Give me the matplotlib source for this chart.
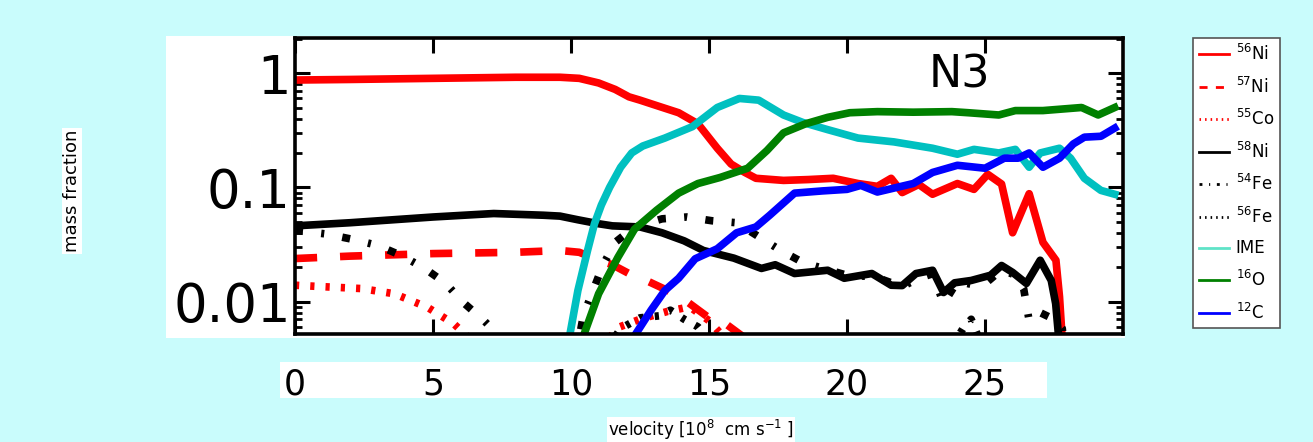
import numpy as np
import matplotlib
matplotlib.use('Agg')
import matplotlib.pyplot as plt
from matplotlib.patches import Rectangle
from matplotlib.ticker import LogLocator, NullFormatter

W, H = 1313, 442
BG = '#c9fcfc'

# --- data (velocity in 1e8 cm/s, mass fraction) ---
ni56_x = [0, 2, 5, 8, 9.6, 10.3, 11.0, 11.6, 12.1, 12.5, 13.1, 13.9, 14.6, 15.3, 15.8,
          16.3, 16.7, 17.7, 18.6, 19.5, 20.4, 21.1, 21.6, 22.0, 22.6, 23.1, 24.0, 24.6,
          25.1, 25.6, 26.0, 26.6, 27.1, 27.57, 27.7, 27.85]
ni56_y = [0.87, 0.88, 0.9, 0.92, 0.92, 0.9, 0.82, 0.72, 0.62, 0.58, 0.52, 0.45, 0.36, 0.22, 0.16,
          0.135, 0.12, 0.115, 0.117, 0.12, 0.108, 0.102, 0.12, 0.09, 0.106, 0.087, 0.108, 0.096,
          0.13, 0.107, 0.04, 0.088, 0.033, 0.023, 0.011, 0.003]

ni57_x = [0, 2, 5, 8, 9.6, 10.3, 11.0, 11.5, 12.1, 12.8, 13.5, 14.2, 15.0, 15.6, 16.2, 17.0]
ni57_y = [0.0238, 0.025, 0.0263, 0.027, 0.028, 0.027, 0.023, 0.021, 0.0176, 0.015, 0.0125,
          0.01, 0.0072, 0.0064, 0.005, 0.003]

co55_x = [0, 1, 2.4, 3.6, 4.8, 5.75, 6.3, 7.0, 10.0, 11.0, 11.6, 12.5, 13.5, 14.3, 15.0, 15.5, 16.5]
co55_y = [0.0139, 0.0135, 0.013, 0.0117, 0.0089, 0.0064, 0.0048, 0.002, 0.001, 0.003, 0.0058,
          0.007, 0.0082, 0.009, 0.0068, 0.005, 0.002]

ni58_x = [0, 2, 5, 7.2, 9.0, 9.6, 10.25, 11.0, 11.5, 12.5, 13.3, 14.1, 14.8, 15.9, 16.9, 17.4,
          18.1, 19.3, 19.9, 20.9, 21.6, 22.0, 22.5, 23.1, 23.5, 23.9, 24.5, 25.2, 25.6, 26.0,
          26.5, 27.0, 27.4, 27.56, 27.7]
ni58_y = [0.046, 0.049, 0.055, 0.059, 0.057, 0.056, 0.052, 0.048, 0.046, 0.045, 0.04, 0.034,
          0.028, 0.024, 0.0195, 0.021, 0.0176, 0.0188, 0.016, 0.0176, 0.0139, 0.0138, 0.0176,
          0.0188, 0.012, 0.0146, 0.0153, 0.017, 0.0207, 0.018, 0.0144, 0.023, 0.0153, 0.0096,
          0.004]

fe54_x = [0, 1.15, 2.1, 3.0, 3.9, 4.7, 5.45, 6.1, 6.85, 7.4, 8.5, 10.0, 10.45, 10.8, 11.15, 11.6,
          12.3, 13.3, 14.2, 15.1, 16.0, 16.8, 17.6, 18.4, 19.3, 20.0, 21.0, 22.0, 22.6, 23.1,
          23.5, 24.0, 24.6, 25.1, 25.6, 26.1, 26.4, 26.6, 27.0, 27.5, 27.8, 28.0]
fe54_y = [0.042, 0.039, 0.035, 0.031, 0.025, 0.0195, 0.0145, 0.0098, 0.0068, 0.005, 0.001, 0.002,
          0.0076, 0.0125, 0.0207, 0.033, 0.045, 0.053, 0.055, 0.051, 0.049, 0.037, 0.028, 0.022,
          0.019, 0.017, 0.0165, 0.0135, 0.016, 0.0175, 0.0096, 0.015, 0.014, 0.015, 0.019, 0.017,
          0.013, 0.0068, 0.008, 0.007, 0.0058, 0.002]

fe56_x = [11.0, 11.8, 12.5, 13.2, 13.6, 14.1, 14.6, 15.2, 20.0, 23.8, 24.2, 24.5, 24.9, 26.0]
fe56_y = [0.003, 0.0058, 0.0072, 0.0075, 0.0084, 0.007, 0.006, 0.004, 0.001, 0.004, 0.0058,
          0.007, 0.004, 0.002]

ime_x = [9.95, 10.25, 10.6, 10.85, 11.1, 11.4, 11.8, 12.2, 12.6, 13.4, 14.4, 15.3, 16.1, 16.8,
         17.7, 18.4, 19.3, 20.4, 21.7, 23.1, 24.0, 24.6, 25.5, 26.1, 26.6, 27.0, 27.7, 28.1,
         28.6, 29.2, 29.7]
ime_y = [0.005, 0.0125, 0.028, 0.048, 0.07, 0.1, 0.15, 0.2, 0.23, 0.27, 0.34, 0.5, 0.6, 0.58,
         0.43, 0.37, 0.32, 0.27, 0.25, 0.22, 0.195, 0.215, 0.2, 0.215, 0.15, 0.2, 0.22, 0.18,
         0.12, 0.094, 0.087]

o16_x = [10.45, 11.0, 11.7, 12.3, 13.1, 13.9, 14.6, 15.4, 16.4, 17.1, 17.7, 18.5, 19.3, 20.1,
         21.1, 22.4, 23.8, 24.4, 25.5, 26.1, 27.1, 28.5, 29.1, 29.7]
o16_y = [0.005, 0.0117, 0.0244, 0.043, 0.063, 0.089, 0.108, 0.122, 0.147, 0.21, 0.30, 0.36,
         0.41, 0.45, 0.46, 0.455, 0.46, 0.45, 0.43, 0.47, 0.47, 0.5, 0.43, 0.5]

c12_x = [12.3, 12.9, 13.4, 13.9, 14.5, 15.3, 16.0, 16.7, 17.2, 18.1, 19.1, 20.0, 20.5, 21.1,
         22.4, 23.1, 24.0, 25.0, 25.7, 26.2, 26.6, 27.1, 27.7, 28.2, 28.6, 29.2, 29.7]
c12_y = [0.005, 0.0084, 0.0125, 0.016, 0.0237, 0.029, 0.04, 0.045, 0.057, 0.089, 0.093, 0.096,
         0.104, 0.091, 0.108, 0.135, 0.156, 0.147, 0.18, 0.18, 0.2, 0.15, 0.18, 0.24, 0.275,
         0.28, 0.33]

labels = [r'$^{56}$Ni', r'$^{57}$Ni', r'$^{55}$Co', r'$^{58}$Ni', r'$^{54}$Fe',
          r'$^{56}$Fe', 'IME', r'$^{16}$O', r'$^{12}$C']
xticks = [0, 5, 10, 15, 20, 25]
yticks = [0.01, 0.1, 1]
ytick_labels = ['0.01', '0.1', '1']


def px_rect(x0, y0, x1, y1, **kw):
    # rectangle given in picture pixels (top-left origin) -> figure fraction
    return Rectangle((x0 / W, 1 - y1 / H), (x1 - x0) / W, (y1 - y0) / H,
                     transform=fig.transFigure, **kw)


fig = plt.figure(figsize=(W / 100, H / 100), dpi=100, facecolor=BG)
ax = fig.add_axes([295 / W, 1 - 334 / H, (1123 - 295) / W, (334 - 38) / H])

# white panels behind the plot and the tick label strip
fig.add_artist(px_rect(166, 36, 1125, 338, facecolor='white', edgecolor='none', zorder=-2))
fig.add_artist(px_rect(280, 362, 1047, 398, facecolor='white', edgecolor='none', zorder=-2))

lw = 5.5
ax.plot(ni56_x, ni56_y, color='red', lw=lw, label=labels[0])
ax.plot(ni57_x, ni57_y, color='red', lw=lw, dashes=(2.9, 3.0), label=labels[1])
ax.plot(co55_x, co55_y, color='red', lw=lw, dashes=(0.55, 1.45), label=labels[2])
ax.plot(ni58_x, ni58_y, color='black', lw=lw, label=labels[3])
ax.plot(fe54_x, fe54_y, color='black', lw=lw, dashes=(1.05, 2.4, 0.4, 2.4), label=labels[4])
ax.plot(fe56_x, fe56_y, color='black', lw=lw, dashes=(0.55, 1.45), label=labels[5])
ax.plot(ime_x, ime_y, color='#00c0c0', lw=lw, label=labels[6])
ax.plot(o16_x, o16_y, color='green', lw=lw, label=labels[7])
ax.plot(c12_x, c12_y, color='blue', lw=lw, label=labels[8])

ax.set_yscale('log')
ax.set_xlim(0, 30)
ax.set_ylim(0.0052, 2.03)
ax.set_xticks(xticks)
ax.set_yticks(yticks, ytick_labels)
ax.yaxis.set_minor_locator(LogLocator(subs=np.arange(2, 10)))
ax.yaxis.set_minor_formatter(NullFormatter())
ax.tick_params(axis='both', which='major', direction='in', length=11, width=2.2,
               top=True, right=True)
ax.tick_params(axis='y', which='minor', direction='in', length=5, width=2, right=True)
ax.tick_params(axis='y', which='major', labelsize=38, pad=3)
ax.tick_params(axis='x', which='major', labelsize=25, pad=24)
for sp in ax.spines.values():
    sp.set_linewidth(2.6)

ax.text(0.803, 0.875, 'N3', transform=ax.transAxes, fontsize=32, ha='center', va='center')

ax.set_ylabel('mass fraction', fontsize=13, ha='center', va='center',
              bbox=dict(facecolor='white', edgecolor='none', pad=1))
ax.yaxis.set_label_coords((72 - 295) / 828, (334 - 191) / 296)
ax.set_xlabel(r'velocity [10$^8$  cm s$^{-1}$ ]', fontsize=12, ha='center', va='center',
              bbox=dict(facecolor='white', edgecolor='none', pad=1))
ax.xaxis.set_label_coords((701 - 295) / 828, (334 - 430) / 296)

leg = fig.legend(loc='upper left', bbox_to_anchor=(1193 / W, 1 - 38 / H),
                 bbox_transform=fig.transFigure, fontsize=12, frameon=True,
                 fancybox=False, edgecolor='#555555', framealpha=1, borderaxespad=0,
                 borderpad=0.35, handlelength=1.8, handletextpad=0.4, labelspacing=0.75)
leg.get_frame().set_linewidth(1.2)
for h in leg.legend_handles:
    h.set_linewidth(2)
leg.legend_handles[6].set_color('#5fe3c8')

fig.savefig('out.png', dpi=100, facecolor=BG)
